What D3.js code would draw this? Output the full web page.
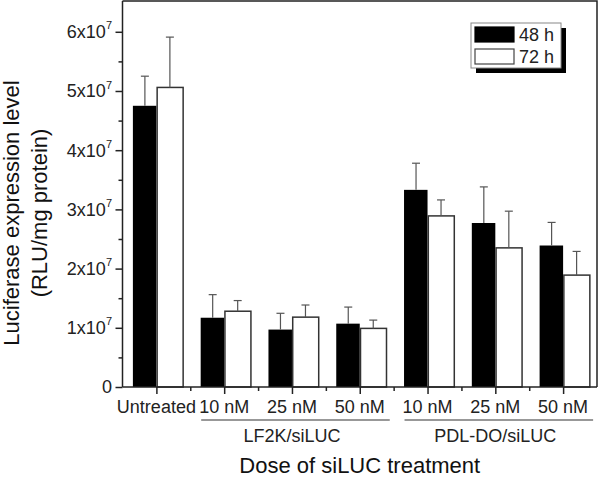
<!DOCTYPE html>
<html>
<head>
<meta charset="utf-8">
<script src="https://cdn.jsdelivr.net/npm/d3@7"></script>
<style>
  body { margin: 0; background: #fff; }
  svg { font-family: "Liberation Sans", Arial, sans-serif; }
</style>
</head>
<body>
<div id="chart-area"></div>
<script>
const categories = ["Untreated", "10 nM", "25 nM", "50 nM", "10 nM", "25 nM", "50 nM"];
const groups = [
    { name: "LF2K/siLUC", from: 1, to: 3 },
    { name: "PDL-DO/siLUC", from: 4, to: 6 }
];
const series = ["48 h", "72 h"];
const values48 = [4.75e7, 1.17e7, 0.97e7, 1.07e7, 3.33e7, 2.77e7, 2.39e7];
const errors48 = [0.50e7, 0.39e7, 0.275e7, 0.28e7, 0.45e7, 0.61e7, 0.39e7];
const values72 = [5.06e7, 1.28e7, 1.18e7, 0.99e7, 2.89e7, 2.35e7, 1.89e7];
const errors72 = [0.85e7, 0.18e7, 0.205e7, 0.14e7, 0.27e7, 0.62e7, 0.40e7];
const yTicks = [0, 1e7, 2e7, 3e7, 4e7, 5e7, 6e7];

const chartSize = { width: 600, height: 479 };
const plot = { left: 122.5, right: 597, top: 1, bottom: 387 };

const svg = d3.select("#chart-area")
    .append("svg")
    .attr("width", chartSize.width)
    .attr("height", chartSize.height);

const x = d3.scaleLinear().domain([0, categories.length]).range([plot.left, plot.right]);
const y = d3.scaleLinear().domain([0, 6.52e7]).range([plot.bottom, plot.top]);

// frame (top and right)
svg.append("path")
    .attr("d", `M${plot.left},${plot.top}H${plot.right}V${plot.bottom}`)
    .attr("fill", "none").attr("stroke", "#222").attr("stroke-width", 1.5);

// bars
const bars = svg.append("g");
categories.forEach((c, i) => {
    const cx = x(i + 0.5);
    bars.append("rect")
        .attr("x", cx - 23.5).attr("width", 23.5)
        .attr("y", y(values48[i])).attr("height", y(0) - y(values48[i]))
        .attr("fill", "#000");
    bars.append("rect")
        .attr("x", cx + 0.75).attr("width", 26)
        .attr("y", y(values72[i])).attr("height", y(0) - y(values72[i]))
        .attr("fill", "#fff").attr("stroke", "#333").attr("stroke-width", 1.5);
});

// error bars (upper only)
const errs = svg.append("g").attr("stroke", "#555").attr("stroke-width", 1.2);
const drawErr = (ex, v, e) => {
    errs.append("line").attr("x1", ex).attr("x2", ex).attr("y1", y(v)).attr("y2", y(v + e));
    errs.append("line").attr("x1", ex - 4).attr("x2", ex + 4).attr("y1", y(v + e)).attr("y2", y(v + e));
};
categories.forEach((c, i) => {
    const cx = x(i + 0.5);
    drawErr(cx - 11.5, values48[i], errors48[i]);
    drawErr(cx + 13.5, values72[i], errors72[i]);
});

// y axis
const yAxis = d3.axisLeft(y).tickValues(yTicks).tickSize(7).tickFormat("");
const yG = svg.append("g").attr("transform", `translate(${plot.left},0)`).call(yAxis);
const yMinor = d3.axisLeft(y).tickValues(d3.range(5e6, 6.5e7, 1e7)).tickSize(4).tickFormat("");
svg.append("g").attr("transform", `translate(${plot.left},0)`).call(yMinor)
    .select(".domain").remove();
yG.select(".domain").attr("d", `M0,${plot.top}V${plot.bottom}`);

const yLabels = svg.append("g").attr("font-size", 18).attr("fill", "#222");
yTicks.forEach(t => {
    const txt = yLabels.append("text")
        .attr("x", 112).attr("y", y(t)).attr("dy", "0.36em")
        .attr("text-anchor", "end");
    if (t === 0) { txt.text("0"); return; }
    txt.append("tspan").text(`${t / 1e7}x10`);
    txt.append("tspan").attr("font-size", 11).attr("dy", "-0.8em").text("7");
});

// x axis
const xMajor = d3.axisBottom(x).tickValues(categories.map((c, i) => i + 0.5)).tickSize(7).tickFormat("");
const xG = svg.append("g").attr("transform", `translate(0,${plot.bottom})`).call(xMajor);
xG.select(".domain").attr("d", `M${plot.left},0H${plot.right}`);
const xMinor = d3.axisBottom(x).tickValues(d3.range(1, categories.length)).tickSize(4).tickFormat("");
svg.append("g").attr("transform", `translate(0,${plot.bottom})`).call(xMinor).select(".domain").remove();
svg.selectAll(".tick line, .domain").attr("stroke", "#222").attr("stroke-width", 1.5);

const xLabels = svg.append("g").attr("font-size", 18).attr("fill", "#222").attr("text-anchor", "middle");
categories.forEach((c, i) => {
    xLabels.append("text").attr("x", x(i + 0.5)).attr("y", 413).text(c);
});

// group lines and names
groups.forEach(g => {
    svg.append("line")
        .attr("x1", x(g.from + 0.5) - 23).attr("x2", x(g.to + 0.5) + 30)
        .attr("y1", 420).attr("y2", 420)
        .attr("stroke", "#333").attr("stroke-width", 1.2);
    xLabels.append("text")
        .attr("x", (x(g.from + 0.5) + x(g.to + 0.5)) / 2).attr("y", 442)
        .text(g.name);
});

// axis titles
svg.append("text")
    .attr("x", x(categories.length / 2)).attr("y", 473)
    .attr("text-anchor", "middle").attr("font-size", 22).attr("fill", "#111")
    .text("Dose of siLUC treatment");

const yTitle = svg.append("text")
    .attr("transform", "translate(0,213) rotate(-90)")
    .attr("text-anchor", "middle").attr("font-size", 22).attr("fill", "#111");
yTitle.append("tspan").attr("x", 0).attr("y", 19).text("Luciferase expression level");
yTitle.append("tspan").attr("x", 0).attr("y", 47).text("(RLU/mg protein)");

// legend
const legend = svg.append("g").attr("transform", "translate(471,23)");
legend.append("rect").attr("x", 5).attr("y", 5).attr("width", 90).attr("height", 45).attr("fill", "#000");
legend.append("rect").attr("width", 90).attr("height", 45).attr("fill", "#fff")
    .attr("stroke", "#888").attr("stroke-width", 1);
series.forEach((s, i) => {
    legend.append("rect")
        .attr("x", 4).attr("y", 4 + i * 22).attr("width", 39).attr("height", 15)
        .attr("fill", i === 0 ? "#000" : "#fff")
        .attr("stroke", i === 0 ? "#000" : "#444").attr("stroke-width", 1.2);
    legend.append("text")
        .attr("x", 48).attr("y", 18 + i * 22)
        .attr("font-size", 18).attr("fill", "#222")
        .text(s);
});
</script>
</body>
</html>
